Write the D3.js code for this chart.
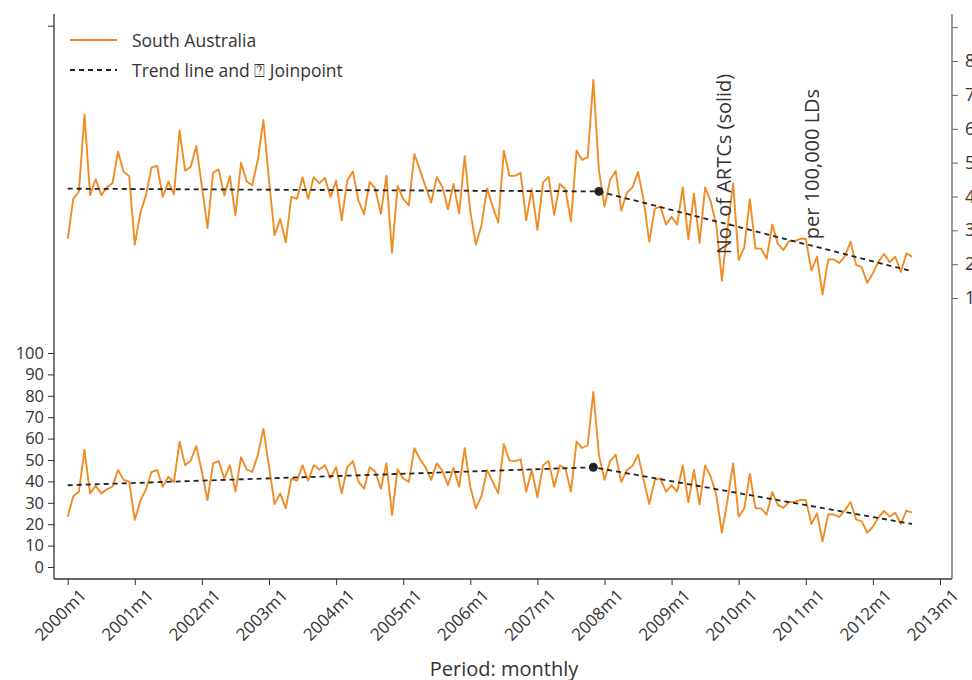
<!DOCTYPE html>
<html>
<head>
<meta charset="utf-8">
<script src="https://cdn.jsdelivr.net/npm/d3@7"></script>
<style>
  body { margin: 0; background: #fff; }
  text { font-family: "Open Sans", sans-serif; fill: #333; }
</style>
</head>
<body>
<div id="chart"></div>
<script>
// monthly data, index 0 = 2000m1
var counts = [23.5, 33.2, 35.2, 54.7, 34.4, 37.9, 34.4, 36.3, 37.5, 45.3, 40.7, 39.9,
    22, 31, 36.3, 44.4, 45.3, 37.5, 42.2, 39.7, 58.6, 47.5, 49.7, 56.5,
    44.5, 31.3, 48.4, 49.5, 41.4, 47.5, 35.2, 51.3, 45.6, 44.4, 52.3, 64.6,
    47, 29.4, 34.4, 27.4, 41.3, 40.3, 47.5, 40.3, 47.5, 45.6, 47.5, 41.6,
    46.6, 34.4, 46.6, 49.5, 39.9, 36.6, 46.6, 44.5, 36.6, 48.4, 24.3, 45.6,
    41.4, 39.7, 55.5, 50.3, 46.6, 40.7, 48.4, 45, 38.3, 46.3, 37.5, 55.5,
    37.5, 27.4, 33.2, 45.3, 39.9, 34.4, 57.5, 49.7, 49.5, 50.3, 35.2, 45.3,
    32.6, 47.5, 49.5, 37.5, 47.5, 46.1, 35.2, 58.6, 55.6, 56.9, 81.8, 52.3,
    40.7, 49.5, 52.4, 39.7, 45.3, 47.2, 52.4, 40.7, 29.4, 40.7, 41.4, 35.2,
    38.2, 35.2, 47.5, 30.2, 45.3, 29.3, 47.5, 42.2, 33.6, 16, 31.3, 48.4,
    23.5, 27.4, 43.5, 27.4, 27.4, 24.5, 35, 29, 27.6, 30.4, 30.4, 31.3,
    31.3, 20.1, 25.1, 12, 24.5, 24.5, 23.4, 26.6, 30.4, 22.3, 21.3, 16,
    18.8, 23.2, 26.2, 23.5, 25.4, 20.1, 26.3, 25.4];

var rates = [2.75, 3.93, 4.14, 6.41, 4.04, 4.51, 4.04, 4.27, 4.39, 5.32, 4.73, 4.6,
    2.58, 3.52, 4.04, 4.86, 4.9, 3.99, 4.44, 4.07, 5.94, 4.76, 4.88, 5.49,
    4.29, 3.07, 4.7, 4.8, 4.03, 4.6, 3.44, 5.0, 4.44, 4.33, 5.08, 6.26,
    4.49, 2.86, 3.33, 2.65, 3.99, 3.93, 4.57, 3.93, 4.57, 4.39, 4.55, 3.99,
    4.47, 3.3, 4.47, 4.74, 3.88, 3.48, 4.43, 4.24, 3.48, 4.61, 2.34, 4.31,
    3.93, 3.74, 5.25, 4.78, 4.29, 3.82, 4.57, 4.29, 3.62, 4.37, 3.5, 5.19,
    3.55, 2.58, 3.15, 4.24, 3.7, 3.23, 5.35, 4.61, 4.61, 4.7, 3.3, 4.22,
    3.01, 4.41, 4.58, 3.46, 4.37, 4.22, 3.27, 5.35, 5.08, 5.16, 7.44, 4.78,
    3.7, 4.49, 4.75, 3.58, 4.11, 4.27, 4.72, 3.9, 2.66, 3.64, 3.7, 3.17,
    3.4, 3.17, 4.27, 2.73, 4.09, 2.63, 4.27, 3.85, 3.15, 1.51, 3.08, 4.39,
    2.12, 2.5, 3.92, 2.46, 2.46, 2.16, 3.17, 2.6, 2.42, 2.68, 2.68, 2.75,
    2.75, 1.81, 2.22, 1.1, 2.14, 2.14, 2.04, 2.24, 2.66, 1.98, 1.91, 1.45,
    1.73, 2.08, 2.3, 2.06, 2.22, 1.77, 2.32, 2.22];

// joinpoint trend lines: [month index, fitted value]
var countTrend = [[0, 38.2], [94, 46.6], [151, 20.1]];
var rateTrend = [[0, 4.23], [95, 4.15], [151, 1.79]];
var countJoin = 1, rateJoin = 1;   // which trend point is the joinpoint

var yearTicks = d3.range(0, 157, 12);
var leftTicks = d3.range(0, 101, 10);
var rightTicks = d3.range(1, 10);

var w = 972, h = 680,
    svg = d3.select("#chart").append("svg").attr("width", w).attr("height", h),
    x = d3.scaleLinear().domain([0, 156]).range([67.7, 940]),
    yL = d3.scaleLinear().domain([0, 100]).range([567, 353]),
    yR = d3.scaleLinear().domain([0, 9]).range([331.9, 27.2]),
    orange = "#f08c24";

var axisCol = "#333";

// frame lines (left, bottom, right)
svg.append("line").attr("x1", 54).attr("x2", 54).attr("y1", 14).attr("y2", 579)
    .attr("stroke", axisCol).attr("stroke-width", 1.3);
svg.append("line").attr("x1", 54).attr("x2", 952).attr("y1", 579).attr("y2", 579)
    .attr("stroke", axisCol).attr("stroke-width", 1.3);
svg.append("line").attr("x1", 952).attr("x2", 952).attr("y1", 14).attr("y2", 579)
    .attr("stroke", "#666").attr("stroke-width", 1.3);

// bottom axis
var gx = svg.append("g")
    .attr("transform", "translate(0,579)")
    .call(d3.axisBottom(x).tickValues(yearTicks).tickSize(6).tickPadding(4)
        .tickFormat(function(d) { return (2000 + d / 12) + "m1"; }));
gx.select(".domain").remove();
gx.selectAll(".tick line").attr("stroke", axisCol);
gx.selectAll(".tick text")
    .attr("font-size", "17px")
    .attr("font-family", "Open Sans")
    .attr("fill", "#333")
    .attr("text-anchor", "end")
    .attr("transform", "translate(8,6) rotate(-45)")
    .attr("dy", "0.35em");

// left axis
var gl = svg.append("g")
    .attr("transform", "translate(54,0)")
    .call(d3.axisLeft(yL).tickValues(leftTicks).tickSize(6).tickPadding(4));
gl.select(".domain").remove();
gl.selectAll(".tick line").attr("stroke", axisCol);
gl.selectAll(".tick text").attr("font-size", "16.5px").attr("font-family", "Open Sans").attr("fill", "#333");
// unlabelled top tick on the left, level with the top right tick
svg.append("line").attr("x1", 48).attr("x2", 54).attr("y1", yR(9) - 1).attr("y2", yR(9) - 1)
    .attr("stroke", axisCol);

// right axis
var gr = svg.append("g")
    .attr("transform", "translate(952,0)")
    .call(d3.axisRight(yR).tickValues(rightTicks).tickSize(6).tickPadding(7)
        .tickFormat(function(d) { return d < 9 ? d : ""; }));
gr.select(".domain").remove();
gr.selectAll(".tick line").attr("stroke", "#666");
gr.selectAll(".tick text").attr("font-size", "17.5px").attr("font-family", "Open Sans").attr("fill", "#333");

// series lines
var lineL = d3.line().x(function(d, i) { return x(i); }).y(function(d) { return yL(d); });
var lineR = d3.line().x(function(d, i) { return x(i); }).y(function(d) { return yR(d); });
var trendL = d3.line().x(function(d) { return x(d[0]); }).y(function(d) { return yL(d[1]); });
var trendR = d3.line().x(function(d) { return x(d[0]); }).y(function(d) { return yR(d[1]); });

svg.append("path").datum(rates)
    .attr("fill", "none").attr("stroke", orange).attr("stroke-width", 1.9)
    .attr("stroke-linejoin", "round").attr("d", lineR);
svg.append("path").datum(counts)
    .attr("fill", "none").attr("stroke", orange).attr("stroke-width", 1.9)
    .attr("stroke-linejoin", "round").attr("d", lineL);

svg.append("path").datum(rateTrend)
    .attr("fill", "none").attr("stroke", "#222").attr("stroke-width", 1.8)
    .attr("stroke-dasharray", "5,4").attr("d", trendR);
svg.append("path").datum(countTrend)
    .attr("fill", "none").attr("stroke", "#222").attr("stroke-width", 1.8)
    .attr("stroke-dasharray", "5,4").attr("d", trendL);

// joinpoints
svg.append("circle").attr("cx", x(rateTrend[rateJoin][0])).attr("cy", yR(rateTrend[rateJoin][1]))
    .attr("r", 4.5).attr("fill", "#222");
svg.append("circle").attr("cx", x(countTrend[countJoin][0])).attr("cy", yL(countTrend[countJoin][1]))
    .attr("r", 4.5).attr("fill", "#222");

// axis titles, sitting inside the plot
render_vtext("No. of ARTCs (solid)", 731, 164);
render_vtext("per 100,000 LDs", 819, 164);

svg.append("text")
    .attr("x", 504).attr("y", 676)
    .attr("text-anchor", "middle")
    .attr("font-size", "20px")
    .text("Period: monthly");

// legend
svg.append("line").attr("x1", 70).attr("x2", 117).attr("y1", 40).attr("y2", 40)
    .attr("stroke", orange).attr("stroke-width", 1.9);
svg.append("text").attr("x", 132).attr("y", 47).attr("font-size", "17.5px").text("South Australia");
svg.append("line").attr("x1", 70).attr("x2", 117).attr("y1", 70).attr("y2", 70)
    .attr("stroke", "#222").attr("stroke-width", 1.8).attr("stroke-dasharray", "5,4");
svg.append("text").attr("x", 132).attr("y", 77).attr("font-size", "17.5px")
    .text("Trend line and \u2370 Joinpoint");

function render_vtext(text, tx, ty) {
    return svg.append("text")
        .attr("transform", "translate(" + tx + "," + ty + ") rotate(-90)")
        .attr("text-anchor", "middle")
        .attr("font-size", "20px")
        .text(text);
}
</script>
</body>
</html>
